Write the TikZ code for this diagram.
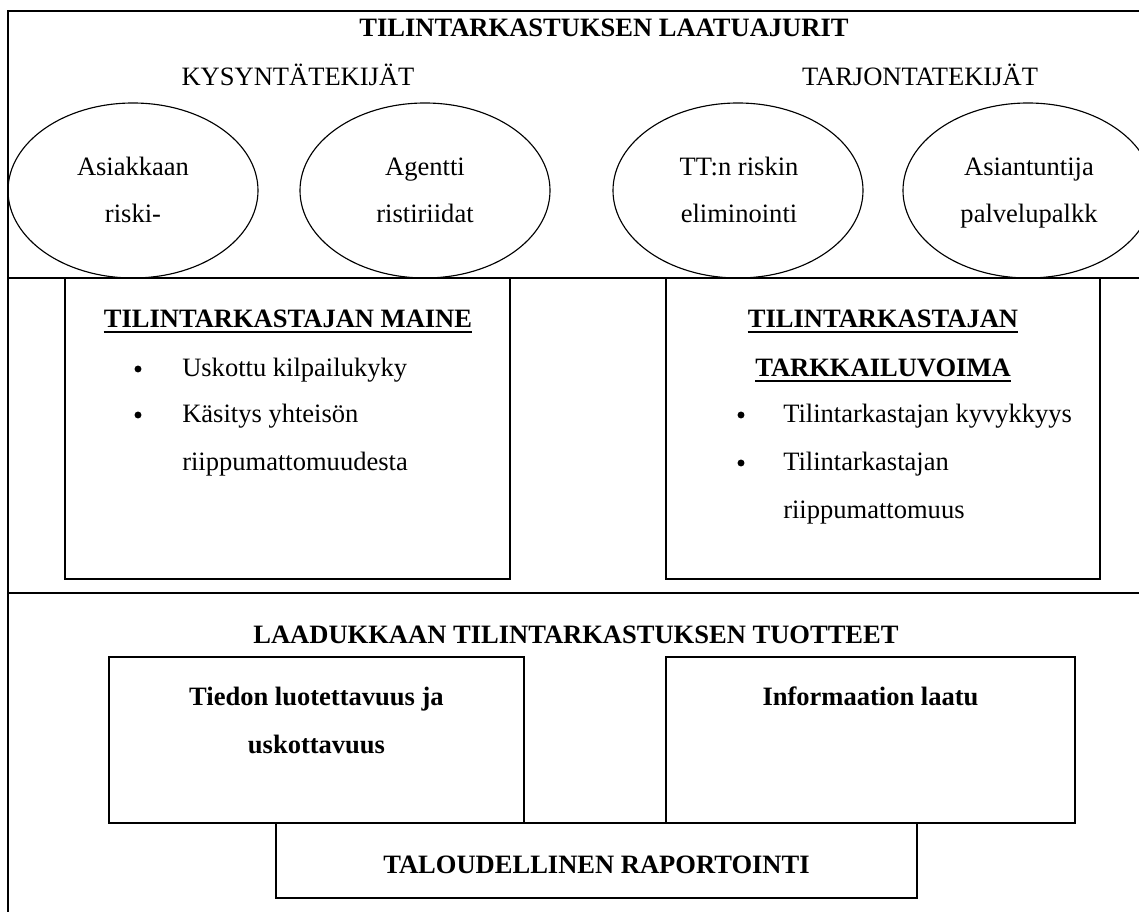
\documentclass[tikz,border=0pt]{standalone}
\usepackage{fontspec}
\setmainfont{Liberation Serif}
\usetikzlibrary{shapes.geometric}
\newcommand\txtsize{\fontsize{19.9pt}{24pt}\selectfont}
\begin{document}
\begin{tikzpicture}[x=0.75pt,y=-0.75pt,
  frame/.style={line width=1.1pt},
  boxline/.style={line width=1pt},
  oval/.style={draw, ellipse, line width=0.85pt, inner sep=0pt,
    minimum width=187.5pt, minimum height=131.25pt},
  txt/.style={font=\txtsize, inner sep=0pt, anchor=base},
  btxt/.style={txt, font=\txtsize\bfseries},
  bul/.style={circle, fill=black, inner sep=0pt, minimum size=5.2pt},
  ]
\useasboundingbox (0,0) rectangle (1139,912);
\fill[white] (0,0) rectangle (1139,912);
\begin{scope}
\clip (0,0) rectangle (1139,912);
% outer frame and dividers
\draw[frame] (8,912) -- (8,11) -- (1145,11);
\draw[frame] (8,278) -- (1145,278);
\draw[frame] (8,593) -- (1145,593);

% top section
\node[btxt] (title) at (604,37) {TILINTARKASTUKSEN LAATUAJURIT};
\node[txt] (kys) at (298,86) {KYSYNTÄTEKIJÄT};
\node[txt] (tar) at (920,86) {TARJONTATEKIJÄT};

\node[oval] (e1) at (133,190.5) {};
\node[oval] (e2) at (425,190.5) {};
\node[oval] (e3) at (738,190.5) {};
\node[oval] (e4) at (1028,190.5) {};

\node[txt] (e1a) at (133,176) {Asiakkaan};
\node[txt] (e1b) at (133,223) {riski-};
\node[txt] (e2a) at (425,176) {Agentti};
\node[txt] (e2b) at (425,223) {ristiriidat};
\node[txt] (e3a) at (739,176) {TT:n riskin};
\node[txt] (e3b) at (739,223) {eliminointi};
\node[txt] (e4a) at (1029,176) {Asiantuntija};
\node[txt] (e4b) at (1029,223) {palvelupalkk};

% middle section
\draw[boxline] (65,278) rectangle (510,579);
\draw[boxline] (666,278) rectangle (1100,579);

\node[btxt] (m1t) at (288,328) {TILINTARKASTAJAN MAINE};
\draw[line width=1.4pt] ([yshift=-3.2pt]m1t.base west) -- ([yshift=-3.2pt]m1t.base east);
\node[bul] (m1b1) at (138,369) {};
\node[txt, anchor=base west] (m1l1) at (182,377) {Uskottu kilpailukyky};
\node[bul] (m1b2) at (138,415) {};
\node[txt, anchor=base west] (m1l2) at (182,423) {Käsitys yhteisön};
\node[txt, anchor=base west] (m1l3) at (182,471) {riippumattomuudesta};

\node[btxt] (m2t1) at (883,328) {TILINTARKASTAJAN};
\draw[line width=1.4pt] ([yshift=-3.2pt]m2t1.base west) -- ([yshift=-3.2pt]m2t1.base east);
\node[btxt] (m2t2) at (883,377) {TARKKAILUVOIMA};
\draw[line width=1.4pt] ([yshift=-3.2pt]m2t2.base west) -- ([yshift=-3.2pt]m2t2.base east);
\node[bul] (m2b1) at (741,415) {};
\node[txt, anchor=base west] (m2l1) at (783,423) {Tilintarkastajan kyvykkyys};
\node[bul] (m2b2) at (741,463) {};
\node[txt, anchor=base west] (m2l2) at (783,471) {Tilintarkastajan};
\node[txt, anchor=base west] (m2l3) at (783,519) {riippumattomuus};

% bottom section
\node[btxt] (btitle) at (576,643) {LAADUKKAAN TILINTARKASTUKSEN TUOTTEET};
\draw[boxline] (109,657) rectangle (524,823);
\draw[boxline] (666,657) rectangle (1075,823);
\draw[boxline] (276,823) rectangle (917,898);
\node[btxt] (b1a) at (316.5,705) {Tiedon luotettavuus ja};
\node[btxt] (b1b) at (316.5,753) {uskottavuus};
\node[btxt] (b2a) at (870.5,705) {Informaation laatu};
\node[btxt] (b3a) at (596.5,873) {TALOUDELLINEN RAPORTOINTI};
\end{scope}
\end{tikzpicture}
\end{document}
